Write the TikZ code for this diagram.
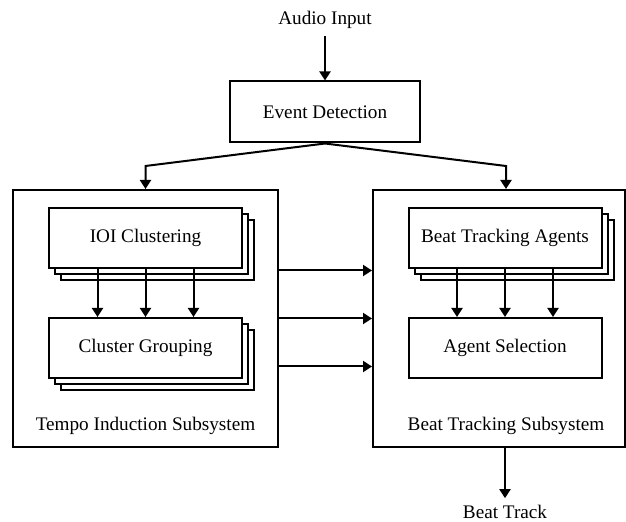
\documentclass[tikz,border=0pt]{standalone}
\usepackage{fontspec}
\setmainfont{Liberation Serif}
\usetikzlibrary{arrows.meta,positioning,shadows}

\begin{document}
\begin{tikzpicture}[x=1pt,y=1pt,
    every node/.style={font=\fontsize{9.6}{11}\selectfont},
    block/.style={draw, line width=1pt, fill=white, minimum width=96.5pt, minimum height=30pt},
    stack/.style={block,
      copy shadow={shadow xshift=6pt, shadow yshift=-6pt, line width=1pt},
      copy shadow={shadow xshift=3pt, shadow yshift=-3pt, line width=1pt}},
    subsystem/.style={draw, line width=1pt, minimum height=128.5pt},
    arr/.style={-{Triangle[length=4.5pt,width=5.5pt]}, line width=1pt}]
    \useasboundingbox (0,0) rectangle (313,-261);

    \node (audio) at (162.5,-10) {Audio Input};
    \node [block, minimum width=95pt, minimum height=30.5pt] (event) at (162.5,-56) {Event Detection};

    \node [subsystem, minimum width=132.5pt] (tempo) at (72.75,-159.25) {};
    \node [subsystem, minimum width=126pt] (beat) at (249.5,-159.25) {};

    \node [stack] (ioi) at (72.75,-119) {IOI Clustering};
    \node [stack, below=24pt of ioi] (group) {Cluster Grouping};
    \node [stack] (agents) at (252.5,-119) {Beat Tracking Agents};
    \node [block, below=24pt of agents] (select) {Agent Selection};

    \node [above=3pt of tempo.south] (tempoL) {Tempo Induction Subsystem};
    \node [above=3pt of beat.south, xshift=3.5pt] (beatL) {Beat Tracking Subsystem};
    \node (track) at (252.5,-256) {Beat Track};

    \draw [arr] (audio) -- (event);
    \draw [arr] (event.south) -- ([yshift=11.5pt]tempo.north) -- (tempo.north);
    \draw [arr] (event.south) -- ([xshift=3.5pt, yshift=11.5pt]beat.north) -- ([xshift=3.5pt]beat.north);

    \foreach \dx in {-24,0,24} {
      \draw [arr] ([xshift=\dx]ioi.south) -- ([xshift=\dx]group.north);
      \draw [arr] ([xshift=\dx]agents.south) -- ([xshift=\dx]select.north);
      \draw [arr] ([yshift=\dx]tempo.east) -- ([yshift=\dx]beat.west);
    }

    \draw [arr] (beat.south -| track) -- (track);
  \end{tikzpicture}
\end{document}
